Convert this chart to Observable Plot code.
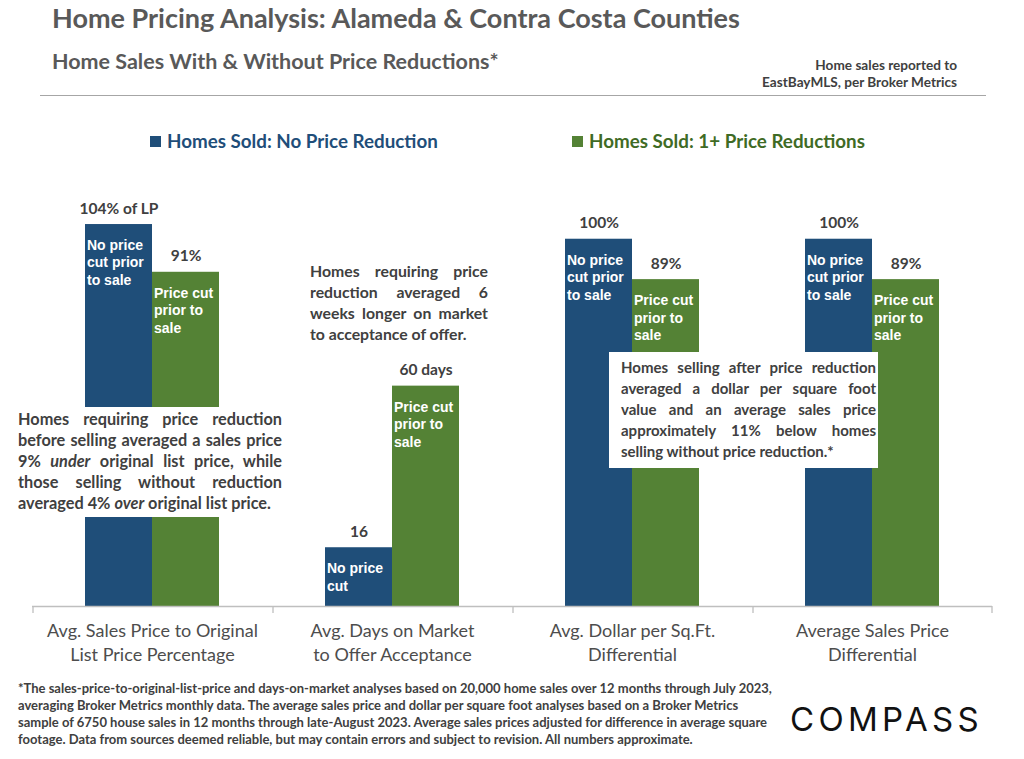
<!DOCTYPE html>
<html>
<head>
<meta charset="utf-8">
<script src="https://cdn.jsdelivr.net/npm/d3@7"></script>
<script src="https://cdn.jsdelivr.net/npm/@observablehq/plot@0.6"></script>
<style>
  body { margin: 0; background: #fff; }
  #page { position: relative; width: 1024px; height: 759px; overflow: hidden; font-family: Lato, "Open Sans", sans-serif; background: #fff; }
  .abs { position: absolute; white-space: nowrap; }
  #title { left: 52px; top: 2px; font-size: 27px; font-weight: 700; color: #595959; line-height: 32px; }
  #subtitle { left: 52px; top: 48px; font-size: 21.5px; font-weight: 700; color: #595959; line-height: 26px; }
  #source { right: 67px; top: 57px; font-size: 13.6px; font-weight: 700; color: #404040; text-align: right; line-height: 17px; }
  #rule { left: 40px; top: 95px; width: 946px; height: 0; border-top: 1.5px solid #a6a6a6; }
  .legend { top: 129px; font-size: 18.8px; font-weight: 700; line-height: 24px; display: flex; align-items: center; }
  .swatch { display: inline-block; width: 11px; height: 11px; margin-right: 6px; }
  #chart { position: absolute; left: 0; top: 190px; }
  .note { position: absolute; font-size: 15px; font-weight: 700; color: #404040; line-height: 21px; background: #fff; box-sizing: border-box; }
  .note span { display: block; white-space: nowrap; text-align: justify; text-align-last: justify; }
  .note span.last { text-align-last: left; }
  #footnote { left: 18px; top: 680px; font-size: 13px; font-weight: 700; color: #404040; line-height: 17px; }
  #logo { left: 790px; top: 699px; font-family: Inter, sans-serif; font-size: 33px; font-weight: 400; letter-spacing: 4.3px; color: #111; line-height: 40px; }
</style>
</head>
<body>
<div id="page">
  <div id="title" class="abs"></div>
  <div id="subtitle" class="abs"></div>
  <div id="source" class="abs"></div>
  <div id="rule" class="abs"></div>
  <div id="legend1" class="abs legend"></div>
  <div id="legend2" class="abs legend"></div>
  <div id="chart"></div>
  <div id="note1" class="note"></div>
  <div id="note2" class="note"></div>
  <div id="note3" class="note"></div>
  <div id="footnote" class="abs"></div>
  <div id="logo" class="abs">COMPASS</div>
</div>
<script>
// ---------- Data ----------
const titleText = "Home Pricing Analysis: Alameda & Contra Costa Counties";
const subtitleText = "Home Sales With & Without Price Reductions*";
const sourceLines = ["Home sales reported to", "EastBayMLS, per Broker Metrics"];

const seriesNames = ["Homes Sold: No Price Reduction", "Homes Sold: 1+ Price Reductions"];
const seriesColors = ["#1f4e79", "#548235"];
const legendTextColors = ["#1f4e79", "#3f6b25"];

const categories = [
  "Avg. Sales Price to Original\nList Price Percentage",
  "Avg. Days on Market\nto Offer Acceptance",
  "Avg. Dollar per Sq.Ft.\nDifferential",
  "Average Sales Price\nDifferential"
];
const noReductionValues = [104, 16, 100, 100];
const reductionValues = [91, 60, 89, 89];
const noReductionLabels = ["104% of LP", "16", "100%", "100%"];
const reductionLabels = ["91%", "60 days", "89%", "89%"];
const noReductionInBar = ["No price\ncut prior\nto sale", "No price\ncut", "No price\ncut prior\nto sale", "No price\ncut prior\nto sale"];
const reductionInBar = ["Price cut\nprior to\nsale", "Price cut\nprior to\nsale", "Price cut\nprior to\nsale", "Price cut\nprior to\nsale"];

const note1Lines = [
  "Homes requiring price reduction",
  "before selling averaged a sales price",
  "9% <i>under</i> original list price, while",
  "those selling without reduction",
  "averaged 4% <i>over</i> original list price."
];
const note2Lines = [
  "Homes requiring price",
  "reduction averaged 6",
  "weeks longer on market",
  "to acceptance of offer."
];
const note3Lines = [
  "Homes selling after price reduction",
  "averaged a dollar per square foot",
  "value and an average sales price",
  "approximately 11% below homes",
  "selling without price reduction.*"
];
const footnoteLines = [
  "*The sales-price-to-original-list-price and days-on-market analyses based on 20,000 home sales over 12 months through July 2023,",
  "averaging Broker Metrics monthly data. The average sales price and dollar per square foot analyses based on a Broker Metrics",
  "sample of 6750 house sales in 12 months through late-August 2023. Average sales prices adjusted for difference in average square",
  "footage.  Data from sources deemed reliable,  but may contain errors and subject to revision. All numbers approximate."
];

// ---------- Build table ----------
const rows = [];
categories.forEach((c, i) => {
  rows.push({category: c, series: seriesNames[0], value: noReductionValues[i], label: noReductionLabels[i], inBar: noReductionInBar[i]});
  rows.push({category: c, series: seriesNames[1], value: reductionValues[i], label: reductionLabels[i], inBar: reductionInBar[i]});
});

// ---------- Header / legend / notes ----------
document.getElementById("title").textContent = titleText;
document.getElementById("subtitle").textContent = subtitleText;
document.getElementById("source").innerHTML = sourceLines.join("<br>");
const leg = [document.getElementById("legend1"), document.getElementById("legend2")];
const legX = [150, 572];
leg.forEach((el, i) => {
  el.style.left = legX[i] + "px";
  el.style.color = legendTextColors[i];
  el.innerHTML = `<span class="swatch" style="background:${seriesColors[i]}"></span>${seriesNames[i]}`;
});
function fillNote(id, lines, box) {
  const el = document.getElementById(id);
  Object.assign(el.style, box);
  el.innerHTML = lines.map((l, i) => `<span class="${i === lines.length - 1 ? "last" : ""}">${l}</span>`).join("");
}
fillNote("note1", note1Lines, {left: "14px", top: "407px", width: "272px", height: "110px", padding: "1px 4px", fontSize: "16.3px"});
fillNote("note2", note2Lines, {left: "310px", top: "260px", width: "178px", padding: "0", background: "transparent", fontSize: "15.8px"});
fillNote("note3", note3Lines, {left: "609px", top: "352px", width: "269px", height: "116px", padding: "5px 2px 0 12px"});
document.getElementById("footnote").innerHTML = footnoteLines.join("<br>");

// ---------- Chart ----------
const tickDepth = -1.9;
const chart = Plot.plot({
  width: 1024,
  height: 480,
  marginTop: 12,
  marginBottom: 64,
  marginLeft: 32,
  marginRight: 32,
  style: {fontFamily: "Lato, sans-serif", color: "#595959", background: "transparent"},
  fx: {domain: categories, padding: 0, label: null},
  x: {domain: seriesNames, paddingInner: 0, paddingOuter: 0.765, axis: null},
  y: {domain: [0, 110], axis: null},
  color: {domain: seriesNames, range: seriesColors},
  marks: [
    Plot.barY(rows, {fx: "category", x: "series", y: "value", fill: "series"}),
    Plot.ruleY([0], {stroke: "#bfbfbf", strokeWidth: 1.3}),
    Plot.ruleX(categories, {fx: d => d, x: () => seriesNames[0], dx: -86, y1: 0, y2: tickDepth, stroke: "#bfbfbf", strokeWidth: 1.3}),
    Plot.ruleX(categories.slice(-1), {fx: d => d, x: () => seriesNames[1], dx: 86, y1: 0, y2: tickDepth, stroke: "#bfbfbf", strokeWidth: 1.3}),
    Plot.text(rows, {fx: "category", x: "series", y: "value", text: "label", dy: -16, fill: "#404040", fontSize: 15.5, fontWeight: 700, fontFamily: "Lato, sans-serif"}),
    Plot.text(rows, {fx: "category", x: "series", y: "value", text: "inBar", dx: -32, dy: 13, textAnchor: "start", lineAnchor: "top", lineHeight: 1.25, fill: "#fff", fontSize: 14, fontWeight: 700, fontFamily: "'Liberation Sans', Arial, sans-serif"}),
    Plot.axisFx({anchor: "bottom", tickSize: 0, tickPadding: 14, label: null, fontSize: 18, lineHeight: 1.3, fill: "#4d4d4d", fontFamily: "Lato, sans-serif"})
  ]
});
document.getElementById("chart").appendChild(chart);
</script>
</body>
</html>
